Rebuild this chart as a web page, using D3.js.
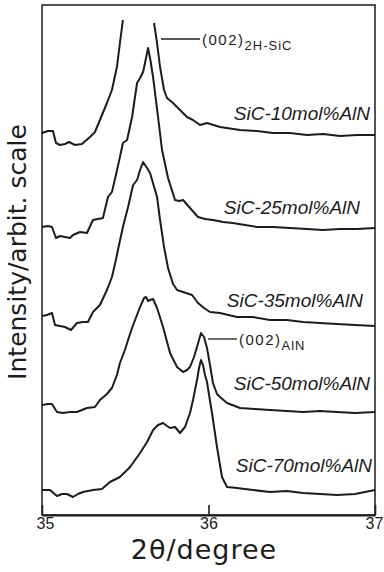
<!DOCTYPE html>
<html>
<head>
<meta charset="utf-8">
<script src="https://cdn.jsdelivr.net/npm/d3@7"></script>
<style>
  html, body { margin: 0; padding: 0; background: #fff; }
  svg { display: block; }
</style>
</head>
<body>
<svg id="chart" width="384" height="572"></svg>
<script>
// ---- data (2θ in degrees, intensity in arbitrary units incl. vertical offset) ----
const seriesNames = ["SiC-10mol%AlN", "SiC-25mol%AlN", "SiC-35mol%AlN", "SiC-50mol%AlN", "SiC-70mol%AlN"];
const xTicks = [35, 36, 37];
const xTickLabels = ["35", "36", "37"];

const theta10 = [35.000,35.036,35.066,35.084,35.108,35.138,35.162,35.198,35.240,35.288,35.318,35.348,35.390,35.420,35.450,35.468,35.486,35.580,35.673,35.691,35.709,35.733,35.751,35.787,35.829,35.871,35.907,35.949,35.991,36.069,36.189,36.291,36.387,36.489,36.592,36.688,36.790,36.892,37.000];
const int10   = [382,384,384,372,370,371,373,370,371,378,383,395,412,425,448,472,495,NaN,492,472,448,425,417,412,405,398,395,390,392,388,385,384,382,382,380,381,379,380,380];

const theta25 = [35.000,35.036,35.060,35.084,35.108,35.138,35.168,35.186,35.228,35.270,35.306,35.336,35.366,35.396,35.420,35.444,35.468,35.486,35.511,35.541,35.571,35.589,35.607,35.625,35.637,35.649,35.667,35.697,35.721,35.757,35.799,35.823,35.847,35.889,35.937,35.979,36.027,36.087,36.147,36.219,36.291,36.387,36.489,36.592,36.688,36.790,36.892,37.000];
const int25   = [288,289,288,277,279,278,277,280,283,282,295,296,297,318,323,340,358,372,375,398,432,437,443,457,467,457,438,398,365,337,315,314,315,307,298,296,295,293,292,290,288,288,287,286,285,286,286,287];

const theta35 = [35.000,35.030,35.060,35.078,35.108,35.138,35.174,35.210,35.246,35.276,35.306,35.348,35.390,35.420,35.444,35.456,35.486,35.517,35.547,35.571,35.589,35.607,35.631,35.649,35.691,35.709,35.733,35.757,35.787,35.811,35.847,35.901,35.937,35.973,36.009,36.069,36.171,36.267,36.369,36.471,36.568,36.670,36.772,36.880,37.000];
const int35   = [199,200,202,190,189,188,185,192,193,193,203,210,225,238,255,265,288,308,330,335,345,353,347,342,318,295,268,247,231,225,223,220,212,207,203,202,198,198,195,195,193,192,191,190,189];

const theta50 = [35.000,35.036,35.060,35.090,35.126,35.168,35.210,35.240,35.270,35.318,35.348,35.390,35.420,35.450,35.468,35.498,35.517,35.541,35.559,35.589,35.613,35.625,35.637,35.649,35.667,35.691,35.727,35.769,35.811,35.847,35.871,35.889,35.913,35.931,35.955,35.973,35.991,36.009,36.027,36.051,36.069,36.111,36.189,36.279,36.369,36.471,36.568,36.670,36.772,36.880,37.000];
const int50   = [110,111,111,103,102,103,103,105,107,108,115,121,127,140,152,165,175,187,195,208,217,218,214,215,216,207,188,162,148,143,145,148,158,168,182,178,167,150,132,121,118,112,107,106,105,104,103,104,103,102,103];

const theta70 = [35.000,35.048,35.090,35.120,35.150,35.186,35.216,35.246,35.306,35.360,35.408,35.468,35.529,35.589,35.631,35.667,35.697,35.727,35.751,35.769,35.799,35.829,35.859,35.889,35.907,35.919,35.931,35.943,35.955,35.967,35.979,35.991,36.021,36.051,36.081,36.111,36.171,36.267,36.369,36.471,36.568,36.670,36.772,36.880,37.000];
const int70   = [25,25,19,21,21,18,21,23,25,26,33,38,48,62,73,85,90,92,89,87,88,82,88,102,115,125,135,147,155,150,140,133,102,68,38,28,27,25,23,24,22,21,20,21,25];

const thetas = [theta10, theta25, theta35, theta50, theta70];
const intensities = [int10, int25, int35, int50, int70];

// ---- layout ----
const svg = d3.select("#chart");
const mLeft = 42, mRight = 375, mTop = 5, mBottom = 515;
const ink = "#1c1c1c";

svg.append("rect").attr("width", 384).attr("height", 572).attr("fill", "#fff");

const x = d3.scaleLinear().domain([35, 37]).range([mLeft, mRight]);
const y = d3.scaleLinear().domain([0, 510]).range([mBottom, mTop]);

// frame
svg.append("rect")
  .attr("x", mLeft).attr("y", mTop)
  .attr("width", mRight - mLeft).attr("height", mBottom - mTop)
  .attr("fill", "none").attr("stroke", ink).attr("stroke-width", 1.5);

// bottom axis
const xAxis = d3.axisBottom(x).tickValues(xTicks)
  .tickFormat((d, i) => xTickLabels[i])
  .tickSizeInner(-10).tickSizeOuter(0).tickPadding(3);
const gx = svg.append("g").attr("transform", `translate(0,${mBottom})`).call(xAxis);
gx.select(".domain").attr("stroke", ink).attr("stroke-width", 2.2);
gx.selectAll(".tick line").attr("stroke", ink).attr("stroke-width", 1.6);
gx.selectAll(".tick text")
  .attr("fill", ink)
  .style("font-family", "'Liberation Sans', Arial, sans-serif")
  .style("font-size", "16px")
  .attr("dx", (d, i) => i === 0 ? 3 : (i === xTicks.length - 1 ? -1 : 0));

// curves
const line = d3.line()
  .defined(d => !isNaN(d[1]))
  .x(d => x(d[0])).y(d => y(d[1]));

seriesNames.forEach((name, i) => {
  const pts = thetas[i].map((t, j) => [t, intensities[i][j]]);
  svg.append("path")
    .datum(pts)
    .attr("d", line)
    .attr("fill", "none")
    .attr("stroke", ink)
    .attr("stroke-width", 2)
    .attr("stroke-linejoin", "round");
});

// series labels
const labelPos = [[370, 120], [360, 214], [363, 307], [370, 390], [372, 472]];
seriesNames.forEach((name, i) => {
  svg.append("text")
    .attr("x", labelPos[i][0]).attr("y", labelPos[i][1])
    .attr("text-anchor", "end")
    .attr("fill", ink)
    .style("font-family", "'Liberation Sans', Arial, sans-serif")
    .style("font-style", "italic")
    .style("font-size", "19px")
    .text(name);
});

// peak annotations
function annotate(x1, x2, yy, main, sub) {
  svg.append("line")
    .attr("x1", x1).attr("x2", x2).attr("y1", yy).attr("y2", yy)
    .attr("stroke", ink).attr("stroke-width", 1.3);
  const t = svg.append("text")
    .attr("x", x2 + 2).attr("y", yy + 6)
    .attr("fill", ink)
    .style("font-family", "'Liberation Sans', Arial, sans-serif")
    .style("font-size", "15px")
    .style("letter-spacing", "1.5px");
  t.append("tspan").text(main);
  t.append("tspan").attr("dy", 5).style("font-size", "13px").style("letter-spacing", "1px").text(sub);
}
annotate(161, 200, 39, "(002)", "2H-SiC");
annotate(208, 237, 339, "(002)", "AlN");

// axis titles
svg.append("text")
  .attr("transform", "translate(26,252) rotate(-90)")
  .attr("text-anchor", "middle")
  .attr("fill", ink)
  .style("font-family", "'DejaVu Sans', sans-serif")
  .style("font-size", "25px")
  .text("Intensity/arbit. scale");

svg.append("text")
  .attr("x", 204).attr("y", 559)
  .attr("text-anchor", "middle")
  .attr("fill", ink)
  .style("font-family", "'DejaVu Sans', sans-serif")
  .style("font-size", "27px")
  .style("letter-spacing", "1px")
  .text("2θ/degree");
</script>
</body>
</html>
